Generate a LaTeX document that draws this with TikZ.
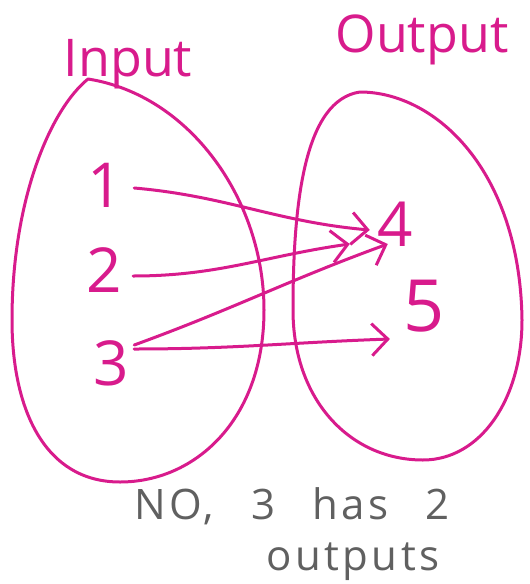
\documentclass[tikz,border=0pt]{standalone}
\usepackage{fontspec}
\setmainfont{Open Sans}
\newfontfamily\pencilfont[LetterSpace=8, WordSpace=2.6]{Open Sans}
\usetikzlibrary{arrows.meta, positioning}
\definecolor{cpink}{HTML}{D81B8C}
\definecolor{cpencil}{HTML}{606060}
\tikzset{
  every picture/.style={line width=3pt, line cap=round, line join=round},
  blob/.style={draw=cpink},
  num/.style={text=cpink, font=\fontsize{62}{62}\selectfont, inner sep=2pt},
  head/.style={text=cpink, font=\fontsize{52}{52}\selectfont, inner sep=0pt},
  maps/.style={draw=cpink, -{Straight Barb[length=16pt, width=32pt, line width=3pt]}},
  note/.style={text=cpencil, font=\pencilfont\fontsize{42}{42}\selectfont, inner sep=0pt},
}
\begin{document}
\begin{tikzpicture}[x=1pt, y=-1pt]
  \useasboundingbox (0,0) rectangle (530,584);
  % the two sets
  \draw[blob] (88,79) .. controls (190,95) and (264,200) .. (264,310)
    .. controls (264,420) and (195,482) .. (120,482)
    .. controls (45,482) and (12,410) .. (12,320)
    .. controls (12,200) and (50,110) .. cycle;
  \draw[blob] (360,92) .. controls (435,92) and (520,170) .. (522,320)
    .. controls (522,400) and (480,460) .. (423,460)
    .. controls (350,460) and (293,400) .. (293,310)
    .. controls (293,200) and (305,100) .. cycle;
  % headings
  \node[head] (inp) at (128,64) {Input};
  \node[head] (outp) at (422,40) {Output};
  % elements
  \node[num] (n1) at (105,185) {1};
  \node[num] (n2) at (104,270) {2};
  \node[num] (n3) at (111,363) {3};
  \node[num] (n4) at (395,224) {4};
  \node[num, font=\fontsize{72}{72}\selectfont] (n5) at (424,306) {5};
  % mapping
  \draw[maps] ([xshift=8pt, yshift=-3pt]n1.east) to[out=-5, in=175] ([xshift=-4pt, yshift=-6pt]n4.west);
  \draw[maps] ([xshift=8pt, yshift=-6pt]n2.east) to[out=0, in=188] ([xshift=-24pt, yshift=-20pt]n4.west);
  \draw[maps] ([xshift=2pt, yshift=18pt]n3.east) to[out=20, in=200] ([xshift=14pt, yshift=-20pt]n4.west);
  \draw[maps] ([xshift=2pt, yshift=14pt]n3.east) to[out=0, in=182] ([xshift=-10pt, yshift=-33pt]n5.west);
  % verdict
  \node[note] (v1) at (292,506) {NO, 3 has 2};
  \node[note] (v2) at (353,562) {outputs};
\end{tikzpicture}
\end{document}
